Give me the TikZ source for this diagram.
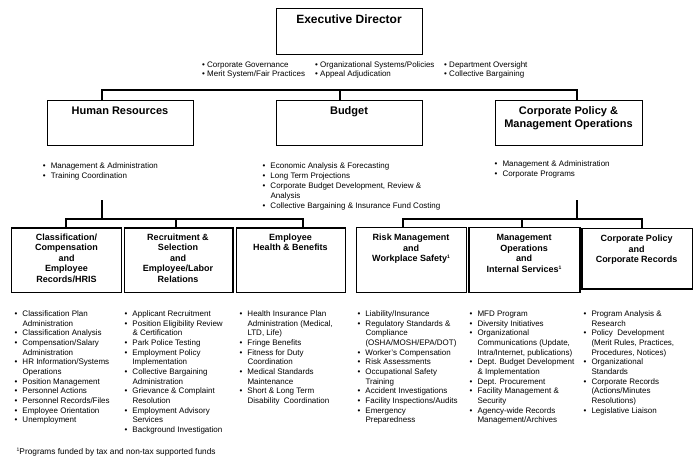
\documentclass[tikz,border=0pt]{standalone}
\usepackage{fontspec}
\setmainfont{Liberation Sans}
\newcommand\bul{\makebox[8pt][l]{\textbullet}}
\newcommand\ind{\hspace*{8pt}}
\newcommand\fnmark{\raisebox{3pt}{\fontsize{5}{5}\selectfont 1}}
\newcommand\sA{\rule{0pt}{6pt}}
\newcommand\sB{\rule{0pt}{7pt}}
\newcommand\sC{\rule{0pt}{8.5pt}}
\begin{document}
\begin{tikzpicture}[x=1pt,y=-1pt,
  box/.style={draw=black, line width=1.2pt, inner sep=0, anchor=north west},
  conn/.style={draw=black, line width=1.2pt},
  bigttl/.style={font=\bfseries\fontsize{12}{14}\selectfont, align=center, anchor=base, inner sep=0},
  midttl/.style={font=\bfseries\fontsize{11}{12.7}\selectfont, align=center, anchor=north, inner sep=0},
  smttl/.style={font=\bfseries\fontsize{9}{10.5}\selectfont, align=center, anchor=north, inner sep=0},
  lst/.style={font=\fontsize{8}{9.65}\selectfont, align=left, anchor=north west, inner sep=0}]
\useasboundingbox (0,0) rectangle (700,459);

% ---- boxes ----
\node[box, minimum width=146pt, minimum height=46pt] (ed) at (276,8) {};
\node[box, minimum width=146pt, minimum height=45.5pt] (hr) at (47,99.5) {};
\node[box, minimum width=146pt, minimum height=45.5pt] (bud) at (276,99.5) {};
\node[box, minimum width=147pt, minimum height=45.5pt] (cpmo) at (495,99.5) {};
\node[box, minimum width=109.7pt, minimum height=64.4pt] (b1) at (11,227.3) {};
\node[box, minimum width=108.3pt, minimum height=64.4pt] (b2) at (124,227.3) {};
\node[box, minimum width=109pt, minimum height=64.4pt] (b3) at (236,227.3) {};
\node[box, minimum width=109.7pt, minimum height=64.7pt] (b4) at (356,227) {};
\node[box, minimum width=111pt, minimum height=64.7pt] (b5) at (468.3,227) {};
\node[box, minimum width=110.4pt, minimum height=60.3pt] (b6) at (581.3,228) {};

% ---- titles (north = first baseline minus strut) ----
\node[bigttl] (edt) at (349,23.5) {Executive Director};
\node[midttl] (hrt) at (120,106.1) {\sC Human Resources};
\node[midttl] (budt) at (349,106.1) {\sC Budget};
\node[midttl] (cpmot) at (568.5,106.1) {\sC Corporate Policy \&\\Management Operations};
\node[smttl] (b1t) at (66.5,233) {\sB Classification/\\Compensation\\and\\Employee\\Records/HRIS};
\node[smttl] (b2t) at (178,233) {\sB Recruitment \&\\Selection\\and\\Employee/Labor\\Relations};
\node[smttl] (b3t) at (290.5,233) {\sB Employee\\Health \& Benefits};
\node[smttl] (b4t) at (411,233.5) {\sB Risk Management\\and\\Workplace Safety\fnmark};
\node[smttl] (b5t) at (524,233.5) {\sB Management\\Operations\\and\\Internal Services\fnmark};
\node[smttl] (b6t) at (636.5,234.5) {\sB Corporate Policy\\and\\Corporate Records};

% ---- executive bullets ----
\node[lst, font=\fontsize{8}{9}\selectfont] (eb1) at (202,61) {\sA\textbullet\ Corporate Governance\\\textbullet\ Merit System/Fair Practices};
\node[lst, font=\fontsize{8}{9}\selectfont] (eb2) at (315,61) {\sA\textbullet\ Organizational Systems/Policies\\\textbullet\ Appeal Adjudication};
\node[lst, font=\fontsize{8}{9}\selectfont] (eb3) at (444,61) {\sA\textbullet\ Department Oversight\\\textbullet\ Collective Bargaining};

% ---- middle bullets ----
\node[lst, font=\fontsize{8}{10}\selectfont] (hrl) at (42.6,162) {\sA\bul Management \& Administration\\\bul Training Coordination};
\node[lst, font=\fontsize{8}{9.85}\selectfont] (budl) at (262.3,162.5) {\sA\bul Economic Analysis \& Forecasting\\\bul Long Term Projections\\\bul Corporate Budget Development, Review \&\\\ind Analysis\\\bul Collective Bargaining \& Insurance Fund Costing};
\node[lst, font=\fontsize{8}{10}\selectfont] (cpl) at (494.3,160.5) {\sA\bul Management \& Administration\\\bul Corporate Programs};

% ---- bottom bullets ----
\node[lst] (l1) at (14.3,310.3) {\sA\bul Classification Plan\\\ind Administration\\\bul Classification Analysis\\\bul Compensation/Salary\\\ind Administration\\\bul HR Information/Systems\\\ind Operations\\\bul Position Management\\\bul Personnel Actions\\\bul Personnel Records/Files\\\bul Employee Orientation\\\bul Unemployment};
\node[lst] (l2) at (124.3,310.3) {\sA\bul Applicant Recruitment\\\bul Position Eligibility Review\\\ind \& Certification\\\bul Park Police Testing\\\bul Employment Policy\\\ind Implementation\\\bul Collective Bargaining\\\ind Administration\\\bul Grievance \& Complaint\\\ind Resolution\\\bul Employment Advisory\\\ind Services\\\bul Background Investigation};
\node[lst] (l3) at (239.3,310.3) {\sA\bul Health Insurance Plan\\\ind Administration (Medical,\\\ind LTD, Life)\\\bul Fringe Benefits\\\bul Fitness for Duty\\\ind Coordination\\\bul Medical Standards\\\ind Maintenance\\\bul Short \& Long Term\\\ind Disability~ Coordination};
\node[lst] (l4) at (357.3,310.3) {\sA\bul Liability/Insurance\\\bul Regulatory Standards \&\\\ind Compliance\\\ind (OSHA/MOSH/EPA/DOT)\\\bul Worker's Compensation\\\bul Risk Assessments\\\bul Occupational Safety\\\ind Training\\\bul Accident Investigations\\\bul Facility Inspections/Audits\\\bul Emergency\\\ind Preparedness};
\node[lst] (l5) at (469.3,310.3) {\sA\bul MFD Program\\\bul Diversity Initiatives\\\bul Organizational\\\ind Communications (Update,\\\ind Intra/Internet, publications)\\\bul Dept. Budget Development\\\ind \& Implementation\\\bul Dept. Procurement\\\bul Facility Management \&\\\ind Security\\\bul Agency-wide Records\\\ind Management/Archives};
\node[lst] (l6) at (583.3,310.3) {\sA\bul Program Analysis \&\\\ind Research\\\bul Policy~ Development\\\ind (Merit Rules, Practices,\\\ind Procedures, Notices)\\\bul Organizational\\\ind Standards\\\bul Corporate Records\\\ind (Actions/Minutes\\\ind Resolutions)\\\bul Legislative Liaison};

% ---- footnote ----
\node[lst, anchor=base west, font=\fontsize{8.3}{10}\selectfont] (fn) at (16.5,454) {\fnmark Programs funded by tax and non-tax supported funds};

% ---- connectors ----
\coordinate (tl) at (102,90);
\coordinate (tm) at (340,90);
\coordinate (tr) at (577,90);
\draw[conn] (tl |- hr.north) -- (tl) -- (tr) -- (tr |- cpmo.north);
\draw[conn] (tm) -- (tm |- bud.north);

\coordinate (hs) at (102,200);
\coordinate (ll) at (66,219);
\coordinate (lm) at (176,219);
\coordinate (lr) at (303,219);
\draw[conn] (hs) -- (hs |- ll);
\draw[conn] (ll |- b1.north) -- (ll) -- (lr) -- (lr |- b3.north);
\draw[conn] (lm) -- (lm |- b2.north);

\coordinate (cs) at (577,200);
\coordinate (rl) at (403,219);
\coordinate (rm) at (522,219);
\coordinate (rr) at (642,219);
\draw[conn] (cs) -- (cs |- rl);
\draw[conn] (rl |- b4.north) -- (rl) -- (rr) -- (rr |- b6.north);
\draw[conn] (rm) -- (rm |- b5.north);
\end{tikzpicture}
\end{document}
